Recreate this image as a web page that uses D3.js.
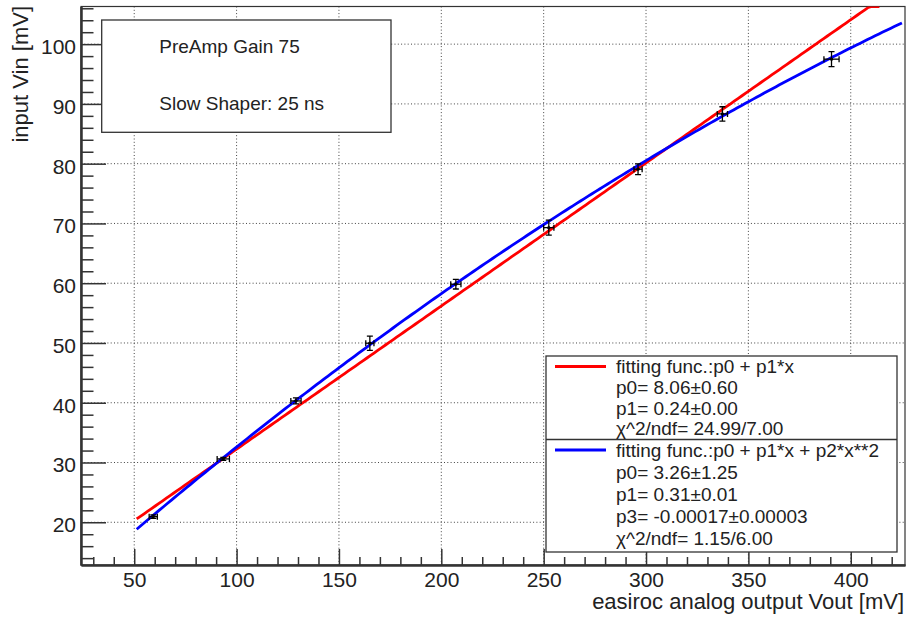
<!DOCTYPE html>
<html>
<head>
<meta charset="utf-8">
<script src="https://cdn.jsdelivr.net/npm/d3@7"></script>
<style>
  body { margin: 0; background: #fff; }
  svg { display: block; font-family: "Liberation Sans", Arial, sans-serif; }
</style>
</head>
<body>
<div id="chart"></div>
<script>
/**
 * DATA
 * */
const vout = [59.3, 93.5, 129.0, 165.1, 207.1, 252.5, 296.1, 337.3, 390.6];
const vin = [20.94, 30.6, 40.3, 49.96, 59.83, 69.3, 79.08, 88.33, 97.49];
const voutErr = [2.0, 3.0, 2.5, 2.0, 2.5, 2.5, 2.0, 2.5, 3.7];
const vinErr = [0.3, 0.25, 0.5, 1.2, 0.8, 1.25, 0.9, 1.2, 1.25];

const xTicks = [50, 100, 150, 200, 250, 300, 350, 400];
const yTicks = [20, 30, 40, 50, 60, 70, 80, 90, 100];

// fit parameters as drawn (p0, p1, p2) and fit ranges
const linPar = [8.29, 0.2395];
const linRange = [51.2, 414];
const quadPar = [3.53, 0.3076, -0.00017];
const quadRange = [51.2, 425];

const boxLines = ["PreAmp Gain 75", "Slow Shaper: 25 ns"];
const legendRed = ["fitting func.:p0 + p1*x", "p0= 8.06\u00B10.60", "p1= 0.24\u00B10.00", "\u03C7^2/ndf= 24.99/7.00"];
const legendBlue = ["fitting func.:p0 + p1*x + p2*x**2", "p0= 3.26\u00B11.25", "p1= 0.31\u00B10.01", "p3= -0.00017\u00B10.00003", "\u03C7^2/ndf= 1.15/6.00"];

/**
 * LAYOUT
 * */
const width = 909, height = 621;
const frame = { left: 81, right: 905, top: 6.5, bottom: 565 };

const svg = d3.select("#chart").append("svg")
  .attr("width", width)
  .attr("height", height);

const x = d3.scaleLinear().domain([24, 426.5]).range([frame.left, frame.right]);
const y = d3.scaleLinear().domain([12.85, 106.3]).range([frame.bottom, frame.top]);

svg.append("clipPath").attr("id", "plotClip")
  .append("rect")
  .attr("x", frame.left).attr("y", frame.top)
  .attr("width", frame.right - frame.left)
  .attr("height", frame.bottom - frame.top);

// grid
const grid = svg.append("g")
  .attr("stroke", "#444")
  .attr("stroke-width", 1)
  .attr("stroke-dasharray", "1,2.3");

grid.selectAll(".gx").data(xTicks).join("line")
  .attr("x1", d => x(d)).attr("x2", d => x(d))
  .attr("y1", frame.top).attr("y2", frame.bottom);

grid.selectAll(".gy").data(yTicks).join("line")
  .attr("y1", d => y(d)).attr("y2", d => y(d))
  .attr("x1", frame.left).attr("x2", frame.right);

// frame
svg.append("rect")
  .attr("x", frame.left).attr("y", frame.top)
  .attr("width", frame.right - frame.left)
  .attr("height", frame.bottom - frame.top)
  .attr("fill", "none")
  .attr("stroke", "#333")
  .attr("stroke-width", 1.2);

/**
 * FIT CURVES
 * */
const line = d3.line().x(d => x(d[0])).y(d => y(d[1]));
const ymax = y.domain()[1];

function curve(par, range) {
  const n = 200, step = (range[1] - range[0]) / n;
  return d3.range(n + 1).map(i => {
    const xv = range[0] + i * step;
    const yv = par.reduce((s, p, k) => s + p * Math.pow(xv, k), 0);
    return [xv, Math.min(yv, ymax)];
  });
}

const curves = svg.append("g").attr("clip-path", "url(#plotClip)");

curves.append("path")
  .attr("d", line(curve(linPar, linRange)))
  .attr("fill", "none")
  .attr("stroke", "#ff0000")
  .attr("stroke-width", 2.8);

curves.append("path")
  .attr("d", line(curve(quadPar, quadRange)))
  .attr("fill", "none")
  .attr("stroke", "#0000ff")
  .attr("stroke-width", 2.8);

/**
 * DATA POINTS WITH ERROR BARS
 * */
const cap = 3;
const pts = svg.append("g")
  .attr("stroke", "#000")
  .attr("stroke-width", 1.3)
  .selectAll("g")
  .data(vout.map((d, i) => ({ x: d, y: vin[i], ex: voutErr[i], ey: vinErr[i] })))
  .join("g");

pts.append("line")
  .attr("x1", d => x(d.x - d.ex)).attr("x2", d => x(d.x + d.ex))
  .attr("y1", d => y(d.y)).attr("y2", d => y(d.y));
pts.append("line")
  .attr("x1", d => x(d.x)).attr("x2", d => x(d.x))
  .attr("y1", d => y(d.y - d.ey)).attr("y2", d => y(d.y + d.ey));
// caps
pts.append("path")
  .attr("d", d => {
    const cx = x(d.x), cy = y(d.y);
    const xl = x(d.x - d.ex), xr = x(d.x + d.ex);
    const yt = y(d.y + d.ey), yb = y(d.y - d.ey);
    return `M${xl},${cy - cap}V${cy + cap}M${xr},${cy - cap}V${cy + cap}` +
      `M${cx - cap},${yt}H${cx + cap}M${cx - cap},${yb}H${cx + cap}`;
  })
  .attr("fill", "none");
pts.append("circle")
  .attr("cx", d => x(d.x)).attr("cy", d => y(d.y))
  .attr("r", 1.6).attr("fill", "#000").attr("stroke", "none");

/**
 * AXES
 * */
const xMinor = d3.range(30, 430, 10).filter(v => v % 50 !== 0);
const yMinor = d3.range(14, 107, 2).filter(v => v % 10 !== 0);

const xAxis = svg.append("g")
  .attr("transform", `translate(0,${frame.bottom})`)
  .call(d3.axisBottom(x).tickValues(xTicks).tickSize(-16).tickSizeOuter(0).tickPadding(7.5));
svg.append("g")
  .attr("transform", `translate(0,${frame.bottom})`)
  .call(d3.axisBottom(x).tickValues(xMinor).tickSize(-8).tickSizeOuter(0).tickFormat(""));

const yAxis = svg.append("g")
  .attr("transform", `translate(${frame.left},0)`)
  .call(d3.axisLeft(y).tickValues(yTicks).tickSize(-25).tickSizeOuter(0).tickPadding(5));
svg.append("g")
  .attr("transform", `translate(${frame.left},0)`)
  .call(d3.axisLeft(y).tickValues(yMinor).tickSize(-12.5).tickSizeOuter(0).tickFormat(""));

svg.selectAll(".domain").attr("stroke", "#333").attr("stroke-width", 2);
svg.selectAll(".tick line").attr("stroke", "#333").attr("stroke-width", 1.5);
svg.selectAll(".tick text")
  .attr("font-family", "'Liberation Sans', Arial, sans-serif")
  .attr("font-size", 21)
  .attr("fill", "#222");
yAxis.selectAll(".tick text").attr("dy", "0.45em");

// axis titles
svg.append("text")
  .attr("x", 904).attr("y", 608.5)
  .attr("text-anchor", "end")
  .attr("font-size", 22)
  .attr("fill", "#222")
  .text("easiroc analog output Vout [mV]");

svg.append("text")
  .attr("transform", "translate(28,6) rotate(-90)")
  .attr("text-anchor", "end")
  .attr("font-size", 22)
  .attr("fill", "#222")
  .text("input Vin [mV]");

/**
 * TEXT BOX
 * */
svg.append("rect")
  .attr("x", 101.7).attr("y", 20)
  .attr("width", 289.3).attr("height", 112.3)
  .attr("fill", "#fff")
  .attr("stroke", "#333")
  .attr("stroke-width", 1.3);

svg.selectAll(".boxline").data(boxLines).join("text")
  .attr("x", 159.3)
  .attr("y", (d, i) => 53.3 + i * 56.7)
  .attr("font-size", 19)
  .attr("fill", "#222")
  .text(d => d);

/**
 * LEGEND
 * */
const leg = { x: 546, y: 356, w: 351, h: 196, div: 439.5 };
svg.append("rect")
  .attr("x", leg.x).attr("y", leg.y)
  .attr("width", leg.w).attr("height", leg.h)
  .attr("fill", "#fff")
  .attr("stroke", "#333")
  .attr("stroke-width", 1.3);
svg.append("line")
  .attr("x1", leg.x).attr("x2", leg.x + leg.w)
  .attr("y1", leg.div).attr("y2", leg.div)
  .attr("stroke", "#333").attr("stroke-width", 1.3);

const entries = [
  { color: "#ff0000", lines: legendRed, top: 366.5, gap: 20.6 },
  { color: "#0000ff", lines: legendBlue, top: 450, gap: 22 }
];

entries.forEach(e => {
  svg.append("line")
    .attr("x1", 555).attr("x2", 606)
    .attr("y1", e.top).attr("y2", e.top)
    .attr("stroke", e.color).attr("stroke-width", 2.8);
  svg.selectAll(null).data(e.lines).join("text")
    .attr("x", 616)
    .attr("y", (d, i) => e.top + i * e.gap + 6.8)
    .attr("font-size", 19)
    .attr("fill", "#222")
    .text(d => d);
});
</script>
</body>
</html>
